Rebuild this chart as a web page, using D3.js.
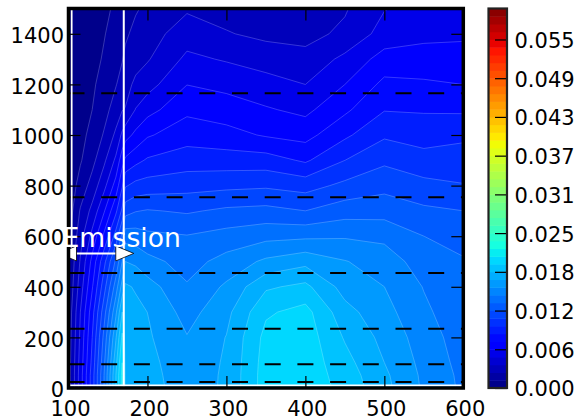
<!DOCTYPE html>
<html>
<head>
<meta charset="utf-8">
<style>
  body { margin: 0; background: #fff; }
  text { font-family: "DejaVu Sans", sans-serif; }
</style>
</head>
<body>
<div id="chart"></div>

<script src="https://d3js.org/d3.v7.min.js"></script>

<script>
    // grid, values are in units of 10^-3
    var xGrid = [100, 115, 130, 145, 160, 168, 172, 185, 200, 250, 300, 350, 400, 450, 500, 550, 600];
    var yGrid = [0, 50, 100, 200, 300, 400, 500, 600, 700, 800, 900, 1000, 1100, 1200, 1300, 1400, 1500];

    // one row per yGrid value, one column per xGrid value
    var conc = [
      [1.85, 5.54, 9.23, 13.54, 18.46, 21.29, 18.15, 17.97, 17.72, 16.61, 17.41, 20.30, 20.43, 19.32, 17.60, 15.81, 14.52],
      [1.85, 5.54, 9.23, 13.54, 18.46, 21.29, 18.09, 17.91, 17.66, 16.55, 17.41, 20.30, 20.43, 19.14, 17.47, 15.75, 14.46],
      [1.85, 5.41, 8.98, 13.29, 18.09, 20.92, 18.03, 17.84, 17.60, 16.43, 17.38, 20.24, 20.43, 18.89, 17.23, 15.63, 14.34],
      [1.72, 5.17, 8.61, 12.68, 17.11, 19.94, 17.91, 17.72, 17.41, 16.06, 17.27, 20.06, 20.37, 18.34, 16.86, 15.38, 14.15],
      [1.60, 4.92, 8.12, 11.81, 15.75, 18.46, 17.78, 17.54, 17.22, 15.51, 16.88, 19.51, 20.12, 17.66, 16.43, 15.01, 13.97],
      [1.35, 4.31, 7.26, 10.58, 14.15, 16.49, 17.41, 17.11, 16.54, 14.89, 16.21, 18.27, 18.77, 16.74, 16.00, 14.71, 13.78],
      [1.23, 3.81, 6.52, 9.48, 12.55, 14.77, 16.00, 15.75, 15.17, 14.27, 15.21, 16.24, 16.86, 16.06, 15.44, 14.15, 13.66],
      [0.86, 3.20, 5.29, 7.63, 10.34, 12.68, 14.27, 14.15, 13.83, 13.60, 14.00, 14.40, 14.52, 14.64, 14.46, 13.54, 13.04],
      [0.49, 2.58, 4.06, 6.03, 8.37, 10.09, 11.81, 12.24, 12.40, 12.15, 12.54, 12.68, 12.31, 12.98, 13.04, 12.55, 12.31],
      [0.37, 1.72, 2.95, 4.55, 6.65, 8.49, 9.72, 10.21, 10.37, 10.61, 10.77, 10.89, 10.58, 11.38, 11.94, 11.44, 11.14],
      [0.37, 1.11, 2.09, 3.45, 5.17, 6.89, 7.63, 8.25, 8.77, 9.23, 9.20, 9.17, 8.43, 9.84, 10.83, 10.28, 10.40],
      [0.31, 0.86, 1.60, 2.58, 3.94, 5.17, 5.66, 6.46, 7.24, 8.10, 7.80, 7.26, 6.95, 8.37, 9.66, 9.35, 9.60],
      [0.25, 0.62, 1.23, 2.03, 3.01, 3.63, 3.75, 4.98, 5.70, 7.11, 6.76, 6.28, 5.85, 7.14, 8.55, 8.49, 8.43],
      [0.25, 0.55, 1.05, 1.66, 2.40, 2.89, 3.26, 3.94, 4.44, 6.13, 5.81, 5.35, 4.92, 6.15, 7.69, 7.57, 7.38],
      [0.18, 0.49, 0.86, 1.35, 1.97, 2.40, 2.71, 3.26, 3.58, 5.19, 4.81, 4.43, 4.06, 5.23, 6.65, 6.65, 6.58],
      [0.12, 0.43, 0.74, 1.17, 1.66, 1.97, 2.28, 2.77, 3.15, 4.34, 3.78, 3.38, 3.32, 3.94, 5.41, 5.85, 5.97],
      [0.12, 0.37, 0.68, 0.98, 1.42, 1.66, 1.97, 2.34, 2.71, 3.53, 3.20, 2.95, 3.01, 3.57, 4.86, 5.41, 5.66]
    ];

    var vmax = 0.0603;       // top of the colour bar
    var nLevels = 50;        // contour levels from 0 to vmax
    var cbarTickEvery = 5;   // a colour bar label every 5 levels

    var xTicks = [100, 200, 300, 400, 500, 600];
    var yTicks = [0, 200, 400, 600, 800, 1000, 1200, 1400];
    var dashedY = [24, 94, 234, 455, 754, 1165];
    var emission = [100, 170];
    var emissionY = 532;
    var emissionLabel = "Emission";

    var width = 581, height = 418;

    var x = d3.scaleLinear().domain([100, 600]).range([68.5, 463.3]);
    var y = d3.scaleLinear().domain([0, 1500]).range([388, 8.5]);

    // matplotlib jet
    var jetR = d3.scaleLinear().domain([0, 0.35, 0.66, 0.89, 1]).range([0, 0, 1, 1, 0.5]).clamp(true);
    var jetG = d3.scaleLinear().domain([0, 0.125, 0.375, 0.64, 0.91, 1]).range([0, 0, 1, 1, 0, 0]).clamp(true);
    var jetB = d3.scaleLinear().domain([0, 0.11, 0.34, 0.65, 1]).range([0.5, 1, 1, 0, 0]).clamp(true);
    function jet(t) {
      return d3.rgb(jetR(t) * 255, jetG(t) * 255, jetB(t) * 255).formatHex();
    }

    var levels = d3.range(nLevels).map(function(i) { return i * vmax / (nLevels - 1); });
    function bandColor(i) { return jet((i + 0.5) / (nLevels - 1)); }

    var svg = d3.select("#chart")
        .append("svg")
        .attr("width", width)
        .attr("height", height);

    svg.append("clipPath").attr("id", "plotClip")
      .append("rect")
        .attr("x", x(100)).attr("y", y(1500))
        .attr("width", x(600) - x(100)).attr("height", y(0) - y(1500));

    var plot = svg.append("g").attr("clip-path", "url(#plotClip)");

    // filled contours on the non uniform grid
    var nx = xGrid.length, ny = yGrid.length;
    var values = d3.merge(conc).map(function(v) { return v / 1000; });
    var contours = d3.contours().size([nx, ny]).thresholds(levels)(values);

    var xi = d3.scaleLinear().domain(d3.range(nx)).range(xGrid).clamp(true);
    var yi = d3.scaleLinear().domain(d3.range(ny)).range(yGrid).clamp(true);
    var gridProj = d3.geoTransform({
      point: function(px, py) { this.stream.point(x(xi(px - 0.5)), y(yi(py - 0.5))); }
    });
    var path = d3.geoPath(gridProj);

    plot.append("g")
      .selectAll("path")
      .data(contours)
      .enter().append("path")
        .attr("d", path)
        .attr("fill", function(d, i) { return bandColor(i); })
        .attr("stroke", function(d, i) { return bandColor(i); })
        .attr("stroke-width", 0.5);

    plot.append("g")
      .selectAll("path")
      .data(contours.slice(1))
      .enter().append("path")
        .attr("d", path)
        .attr("fill", "none")
        .attr("stroke", "#fff")
        .attr("stroke-opacity", 0.3)
        .attr("stroke-width", 0.7);

    // dashed levels
    plot.append("g")
      .selectAll("line")
      .data(dashedY)
      .enter().append("line")
        .attr("x1", x(100)).attr("x2", x(600))
        .attr("y1", function(d) { return y(d); })
        .attr("y2", function(d) { return y(d); })
        .attr("stroke", "#000")
        .attr("stroke-width", 2)
        .attr("stroke-dasharray", "16,16.7");

    // white markers
    plot.append("line")
        .attr("x1", x(emission[1])).attr("x2", x(emission[1]))
        .attr("y1", y(1500)).attr("y2", y(0))
        .attr("stroke", "#fff").attr("stroke-width", 2);
    plot.append("line")
        .attr("x1", x(104)).attr("x2", x(104))
        .attr("y1", y(1500)).attr("y2", y(emissionY))
        .attr("stroke", "#fff").attr("stroke-width", 1.8);
    plot.append("line")
        .attr("x1", x(100)).attr("x2", x(600))
        .attr("y1", y(10)).attr("y2", y(10))
        .attr("stroke", "#fff").attr("stroke-width", 2);

    // double arrow under the label
    var ay = y(emissionY);
    var tipL = x(emission[0]) - 10, tipR = x(emission[1]) + 10;
    var headLen = 18, headW = 7.5;
    plot.append("line")
        .attr("x1", tipL + headLen - 2).attr("x2", tipR - headLen + 2)
        .attr("y1", ay).attr("y2", ay)
        .attr("stroke", "#fff").attr("stroke-width", 2);
    plot.selectAll("path.head")
      .data([[tipL, 1], [tipR, -1]])
      .enter().append("path")
        .attr("class", "head")
        .attr("d", function(d) {
          var b = d[0] + d[1] * headLen;
          return "M" + d[0] + "," + ay + "L" + b + "," + (ay - headW) + "L" + b + "," + (ay + headW) + "Z";
        })
        .attr("fill", "#fff")
        .attr("stroke", "#000")
        .attr("stroke-width", 0.8);

    // axes, ticks point inward
    function styleAxis(g) {
      g.select(".domain").remove();
      g.selectAll(".tick line").attr("stroke", "#000").attr("stroke-width", 1.2);
      g.selectAll("text").attr("font-size", 21).attr("fill", "#000").attr("font-family", "DejaVu Sans");
    }

    svg.append("g")
        .attr("transform", "translate(0," + y(0) + ")")
        .call(d3.axisBottom(x).tickValues(xTicks).tickSize(-12).tickPadding(12.8).tickFormat(d3.format("d")))
        .call(styleAxis)
        .selectAll("text").attr("dx", 1.5);

    svg.append("g")
        .attr("transform", "translate(0," + y(1500) + ")")
        .call(d3.axisTop(x).tickValues(xTicks).tickSize(-12).tickFormat(""))
        .call(styleAxis);

    svg.append("g")
        .attr("transform", "translate(" + x(100) + ",0)")
        .call(d3.axisLeft(y).tickValues(yTicks).tickSize(-12).tickPadding(4.5).tickFormat(d3.format("d")))
        .call(styleAxis)
        .selectAll("text").attr("dy", "0.41em");

    svg.append("g")
        .attr("transform", "translate(" + x(600) + ",0)")
        .call(d3.axisRight(y).tickValues(yTicks).tickSize(-12).tickFormat(""))
        .call(styleAxis);

    svg.append("rect")
        .attr("x", x(100)).attr("y", y(1500))
        .attr("width", x(600) - x(100)).attr("height", y(0) - y(1500))
        .attr("fill", "none")
        .attr("stroke", "#000")
        .attr("stroke-width", 3.5);

    svg.append("text")
        .attr("x", 62.5).attr("y", 247)
        .attr("fill", "#fff")
        .attr("font-size", 26.6)
        .text(emissionLabel);

    // colour bar
    var cbX = 488.5, cbW = 18.5;
    var cy = d3.scaleLinear().domain([0, vmax]).range([388, 8.5]);

    svg.append("g")
      .selectAll("rect")
      .data(d3.range(nLevels - 1))
      .enter().append("rect")
        .attr("x", cbX)
        .attr("y", function(i) { return cy(levels[i + 1]); })
        .attr("width", cbW)
        .attr("height", function(i) { return cy(levels[i]) - cy(levels[i + 1]) + 0.5; })
        .attr("fill", function(i) { return bandColor(i); });

    var cbTicks = levels.filter(function(d, i) { return i % cbarTickEvery === 0; });

    svg.append("g")
        .attr("transform", "translate(" + (cbX + cbW) + ",0)")
        .call(d3.axisRight(cy).tickValues(cbTicks).tickSize(-12).tickPadding(7.5).tickFormat(d3.format(".3f")))
        .call(styleAxis)
        .selectAll("text").attr("dy", "0.38em");

    svg.append("rect")
        .attr("x", cbX).attr("y", cy(vmax))
        .attr("width", cbW).attr("height", cy(0) - cy(vmax))
        .attr("fill", "none")
        .attr("stroke", "#222")
        .attr("stroke-width", 2.2);
</script>
</body>
</html>
